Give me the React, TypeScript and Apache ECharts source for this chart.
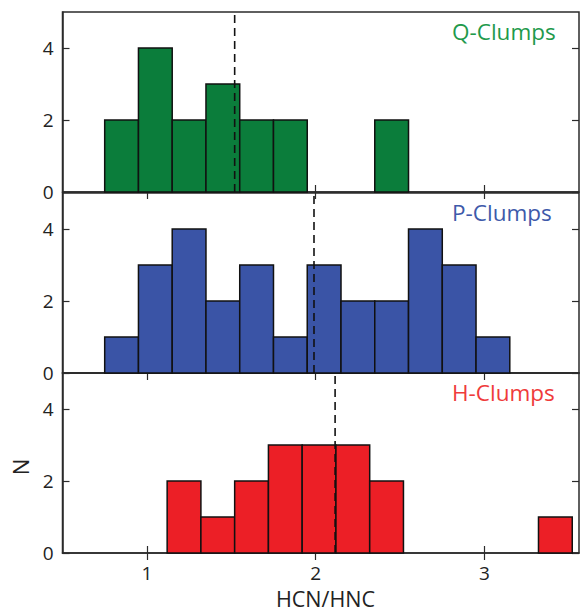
import React, { useEffect, useRef } from "react";
import * as echarts from "echarts";

// Histogram bins: [left edge, right edge, count]
const qBins: number[][] = [
  [0.75, 0.95, 2], [0.95, 1.15, 4], [1.15, 1.35, 2], [1.35, 1.55, 3],
  [1.55, 1.75, 2], [1.75, 1.95, 2], [2.35, 2.55, 2],
];
const pBins: number[][] = [
  [0.75, 0.95, 1], [0.95, 1.15, 3], [1.15, 1.35, 4], [1.35, 1.55, 2],
  [1.55, 1.75, 3], [1.75, 1.95, 1], [1.95, 2.15, 3], [2.15, 2.35, 2],
  [2.35, 2.55, 2], [2.55, 2.75, 4], [2.75, 2.95, 3], [2.95, 3.15, 1],
];
const hBins: number[][] = [
  [1.12, 1.32, 2], [1.32, 1.52, 1], [1.52, 1.72, 2], [1.72, 1.92, 3],
  [1.92, 2.12, 3], [2.12, 2.32, 3], [2.32, 2.52, 2], [3.32, 3.52, 1],
];
const medians = [1.52, 1.99, 2.115];
const panelNames = ["Q-Clumps", "P-Clumps", "H-Clumps"];
const xTicks = [1, 2, 3];
const yTicks = [0, 2, 4];

const fillColors = ["#0b7d3b", "#3a54a6", "#ec1f26"];
const textColors = ["#1f9a4c", "#3e5aaa", "#ef3b3b"];
const FONT = "Open Sans";
const AX = "#2b2b2b";

export default function App() {
  const ref = useRef<HTMLDivElement>(null);
  useEffect(() => {
    const chart = echarts.init(ref.current!, undefined, { renderer: "svg" });
    const tops = [12, 193, 373];
    const H = 180;
    const left = 62.5;
    const width = 516.5;
    const all = [qBins, pBins, hBins];

    const grids = tops.map((t) => ({
      left, top: t, width, height: H, show: true,
      borderColor: AX, borderWidth: 1.5, backgroundColor: "transparent",
    }));

    const xAxes: any[] = [];
    const yAxes: any[] = [];
    tops.forEach((_, i) => {
      xAxes.push({
        type: "value", gridIndex: i, min: 0.5, max: 3.56, position: "bottom",
        axisLine: { show: true, onZero: false, lineStyle: { color: AX, width: 1.5 } },
        axisTick: { show: true, inside: true, length: 7, customValues: xTicks, lineStyle: { color: AX, width: 1.2 } },
        axisLabel: { show: i === 2, customValues: xTicks, fontSize: 19, color: "#222", fontFamily: FONT, margin: 10 },
        splitLine: { show: false },
      });
      xAxes.push({
        type: "value", gridIndex: i, min: 0.5, max: 3.56, position: "top",
        axisLine: { show: false },
        axisTick: { show: true, inside: true, length: 7, customValues: xTicks, lineStyle: { color: AX, width: 1.2 } },
        axisLabel: { show: false },
        splitLine: { show: false },
      });
      yAxes.push({
        type: "value", gridIndex: i, min: 0, max: 5, position: "left",
        axisLine: { show: true, onZero: false, lineStyle: { color: AX, width: 1.5 } },
        axisTick: { show: true, inside: true, length: 7, customValues: yTicks, lineStyle: { color: AX, width: 1.2 } },
        axisLabel: { show: true, customValues: yTicks, fontSize: 19, color: "#222", fontFamily: FONT, margin: 9 },
        splitLine: { show: false },
      });
      yAxes.push({
        type: "value", gridIndex: i, min: 0, max: 5, position: "right",
        axisLine: { show: false },
        axisTick: { show: true, inside: true, length: 7, customValues: yTicks, lineStyle: { color: AX, width: 1.2 } },
        axisLabel: { show: false },
        splitLine: { show: false },
      });
    });

    const series: any[] = [];
    all.forEach((bins, i) => {
      series.push({
        type: "custom",
        xAxisIndex: i * 2,
        yAxisIndex: i * 2,
        data: bins,
        encode: { x: [0, 1], y: 2 },
        renderItem: (params: any, api: any) => {
          const p0 = api.coord([api.value(0), 0]);
          const p1 = api.coord([api.value(1), api.value(2)]);
          return {
            type: "rect",
            shape: { x: p0[0], y: p1[1], width: p1[0] - p0[0], height: p0[1] - p1[1] },
            style: { fill: fillColors[i], stroke: "#111", lineWidth: 1.5 },
          };
        },
        z: 2,
      });
      series.push({
        type: "line",
        xAxisIndex: i * 2,
        yAxisIndex: i * 2,
        data: [[medians[i], 0], [medians[i], 5]],
        symbol: "none",
        lineStyle: { color: "#111", width: 1.6, type: [8, 5] },
        z: 3,
      });
    });

    const graphics: any[] = panelNames.map((n, i) => ({
      type: "text",
      left: 452,
      top: tops[i] + 8,
      style: { text: n, fill: textColors[i], fontSize: 22.5, fontFamily: FONT },
    }));
    graphics.push({
      type: "text",
      x: 325.5, y: 598,
      style: { text: "HCN/HNC", fill: "#222", fontSize: 21.5, fontFamily: FONT, align: "center", verticalAlign: "middle" },
    });
    graphics.push({
      type: "text",
      x: 20, y: 467, rotation: Math.PI / 2,
      style: { text: "N", fill: "#222", fontSize: 22, fontFamily: FONT, align: "center", verticalAlign: "middle" },
    });

    chart.setOption({
      animation: false,
      backgroundColor: "#fff",
      grid: grids,
      xAxis: xAxes,
      yAxis: yAxes,
      series,
      graphic: graphics,
    });
    return () => chart.dispose();
  }, []);
  return (
    <div
      ref={ref}
      style={{ position: "absolute", left: 0, top: 0, width: 580, height: 613 }}
    />
  );
}
